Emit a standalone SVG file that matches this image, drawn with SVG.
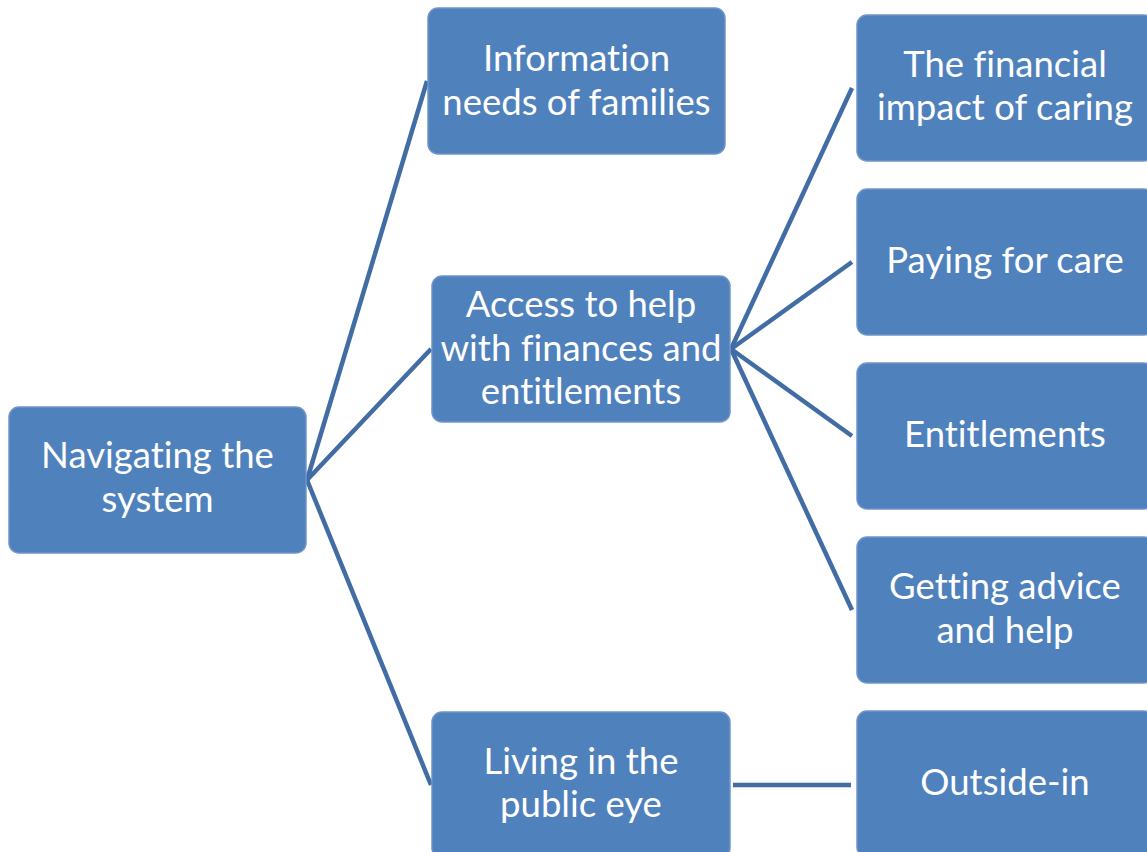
<svg xmlns="http://www.w3.org/2000/svg" width="1147" height="852" viewBox="0 0 1147 852">
<style>
.box{fill:#4f81bd;stroke:#6f95c8;stroke-width:1.5}
.t{font-family:Lato,"Liberation Sans",sans-serif;font-size:36.5px;fill:#ffffff;text-anchor:middle;font-variant-ligatures:none;font-feature-settings:"liga" 0,"clig" 0}
.c{stroke:#416ca4;stroke-width:4.5;fill:none}
</style>
<rect width="1147" height="852" fill="#ffffff"/>
<g id="connectors">
<line class="c" x1="307" y1="480" x2="427" y2="81"/>
<line class="c" x1="307" y1="480" x2="431" y2="349"/>
<line class="c" x1="307" y1="480" x2="431" y2="785"/>
<line class="c" x1="731" y1="349" x2="852" y2="88"/>
<line class="c" x1="731" y1="349" x2="852" y2="262"/>
<line class="c" x1="731" y1="349" x2="852" y2="436"/>
<line class="c" x1="731" y1="349" x2="852" y2="610"/>
<line class="c" x1="733" y1="785" x2="851" y2="785"/>
</g>
<g id="n-navigating"><rect class="box" x="9" y="407" width="297" height="146" rx="10"/><text class="t" x="157.5" y="468">Navigating the</text><text class="t" x="157.5" y="512">system</text></g>
<g id="n-information"><rect class="box" x="428" y="8" width="297" height="146" rx="10"/><text class="t" x="576.5" y="71">Information</text><text class="t" x="576.5" y="115">needs of families</text></g>
<g id="n-access"><rect class="box" x="432" y="276" width="298" height="146" rx="10"/><text class="t" x="581" y="317">Access to help</text><text class="t" x="581" y="361">with finances and</text><text class="t" x="581" y="404">entitlements</text></g>
<g id="n-living"><rect class="box" x="432" y="712" width="298" height="146" rx="10"/><text class="t" x="581" y="774">Living in the</text><text class="t" x="581" y="817">public eye</text></g>
<g id="n-financial"><rect class="box" x="857" y="15" width="297" height="146" rx="10"/><text class="t" x="1005" y="77">The financial</text><text class="t" x="1005" y="120">impact of caring</text></g>
<g id="n-paying"><rect class="box" x="857" y="189" width="297" height="146" rx="10"/><text class="t" x="1005" y="273">Paying for care</text></g>
<g id="n-entitlements"><rect class="box" x="857" y="363" width="297" height="146" rx="10"/><text class="t" x="1005" y="447">Entitlements</text></g>
<g id="n-advice"><rect class="box" x="857" y="537" width="297" height="146" rx="10"/><text class="t" x="1005" y="599">Getting advice</text><text class="t" x="1005" y="643">and help</text></g>
<g id="n-outside"><rect class="box" x="857" y="711" width="297" height="146" rx="10"/><text class="t" x="1005" y="795">Outside-in</text></g>
</svg>
